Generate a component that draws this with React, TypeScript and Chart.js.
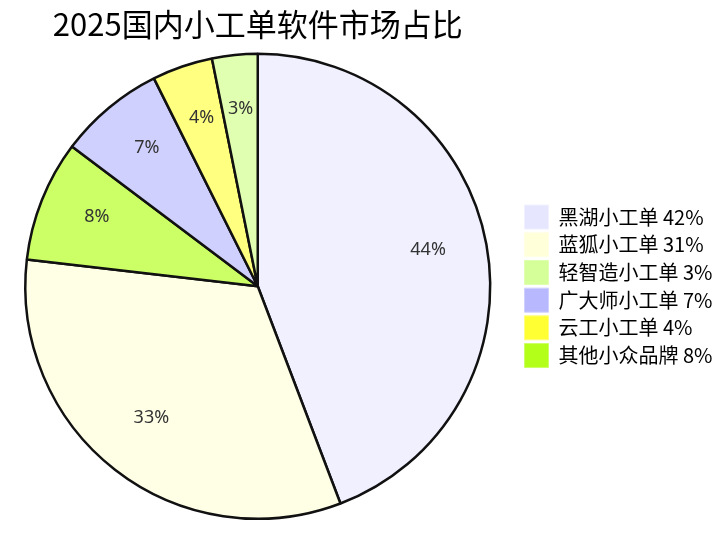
import React, { useEffect, useRef } from 'react';
import { Chart, registerables } from 'chart.js';

Chart.register(...registerables);

const titleText = '2025国内小工单软件市场占比';
const categories = ['黑湖小工单', '蓝狐小工单', '轻智造小工单', '广大师小工单', '云工小工单', '其他小众品牌'];
const shares = [42, 31, 3, 7, 4, 8];
const legendColors = ['#e6e6ff', '#ffffd9', '#d4ff99', '#b8b8ff', '#ffff33', '#b3ff1a'];
const sliceColors = ['#f0f0ff', '#ffffe6', '#e0ffb0', '#d0d0ff', '#ffff80', '#ccff66'];

const CJK = '"Noto Sans CJK SC", "DejaVu Sans", sans-serif';

export default function App() {
  const ref = useRef<HTMLCanvasElement | null>(null);

  useEffect(() => {
    if (!ref.current) return;
    const order = categories.map((_, i) => i).sort((a, b) => shares[b] - shares[a]);
    const total = shares.reduce((s, v) => s + v, 0);

    const labelPlugin = {
      id: 'pctLabels',
      afterDatasetsDraw(chart: any) {
        const ctx = chart.ctx;
        const meta = chart.getDatasetMeta(0);
        ctx.save();
        ctx.font = '18px "Noto Sans", "DejaVu Sans", sans-serif';
        ctx.fillStyle = '#333333';
        ctx.textAlign = 'center';
        ctx.textBaseline = 'alphabetic';
        meta.data.forEach((arc: any, i: number) => {
          const { x, y, startAngle, endAngle, outerRadius } = arc.getProps(
            ['x', 'y', 'startAngle', 'endAngle', 'outerRadius'],
            true
          );
          const mid = (startAngle + endAngle) / 2;
          const d = outerRadius * 0.745;
          const v = chart.data.datasets[0].data[i] as number;
          ctx.fillText(`${Math.round((v / total) * 100)}%`, x + Math.cos(mid) * d, y + Math.sin(mid) * d);
        });
        ctx.restore();
      },
    };

    const chart = new Chart(ref.current, {
      type: 'pie',
      data: {
        labels: order.map((i) => categories[i]),
        datasets: [
          {
            data: order.map((i) => shares[i]),
            backgroundColor: order.map((i) => sliceColors[i]),
            borderColor: '#111111',
            borderWidth: 2.5,
          },
        ],
      },
      options: {
        responsive: false,
        animation: false,
        layout: { padding: { left: 4.7, right: 7.5, top: 0, bottom: 15 } },
        plugins: {
          title: {
            display: true,
            text: titleText,
            fullSize: false,
            color: '#000000',
            font: { family: CJK, size: 31, weight: 'normal' },
            padding: { top: 5.4, bottom: 10 },
          },
          legend: {
            position: 'right',
            fullSize: false,
            labels: {
              boxWidth: 24,
              boxHeight: 24,
              padding: 3.7,
              color: '#000000',
              font: { family: CJK, size: 20 },
              generateLabels: () =>
                categories.map((c, i) => ({
                  text: `${c} ${shares[i]}%`,
                  fillStyle: legendColors[i],
                  strokeStyle: sliceColors[i],
                  lineWidth: 1,
                  hidden: false,
                  index: order.indexOf(i),
                  datasetIndex: 0,
                  fontColor: '#000000',
                })),
            },
          },
          tooltip: { enabled: false },
        },
      } as any,
      plugins: [labelPlugin],
    });
    return () => chart.destroy();
  }, []);

  return (
    <div
      style={{
        position: 'fixed',
        left: 0,
        top: 0,
        width: 716,
        height: 535,
        overflow: 'hidden',
        background: '#ffffff',
      }}
    >
      <canvas
        ref={ref}
        width={740}
        height={535}
        style={{ position: 'absolute', left: -10, top: 0, width: 740, height: 535 }}
      />
    </div>
  );
}
